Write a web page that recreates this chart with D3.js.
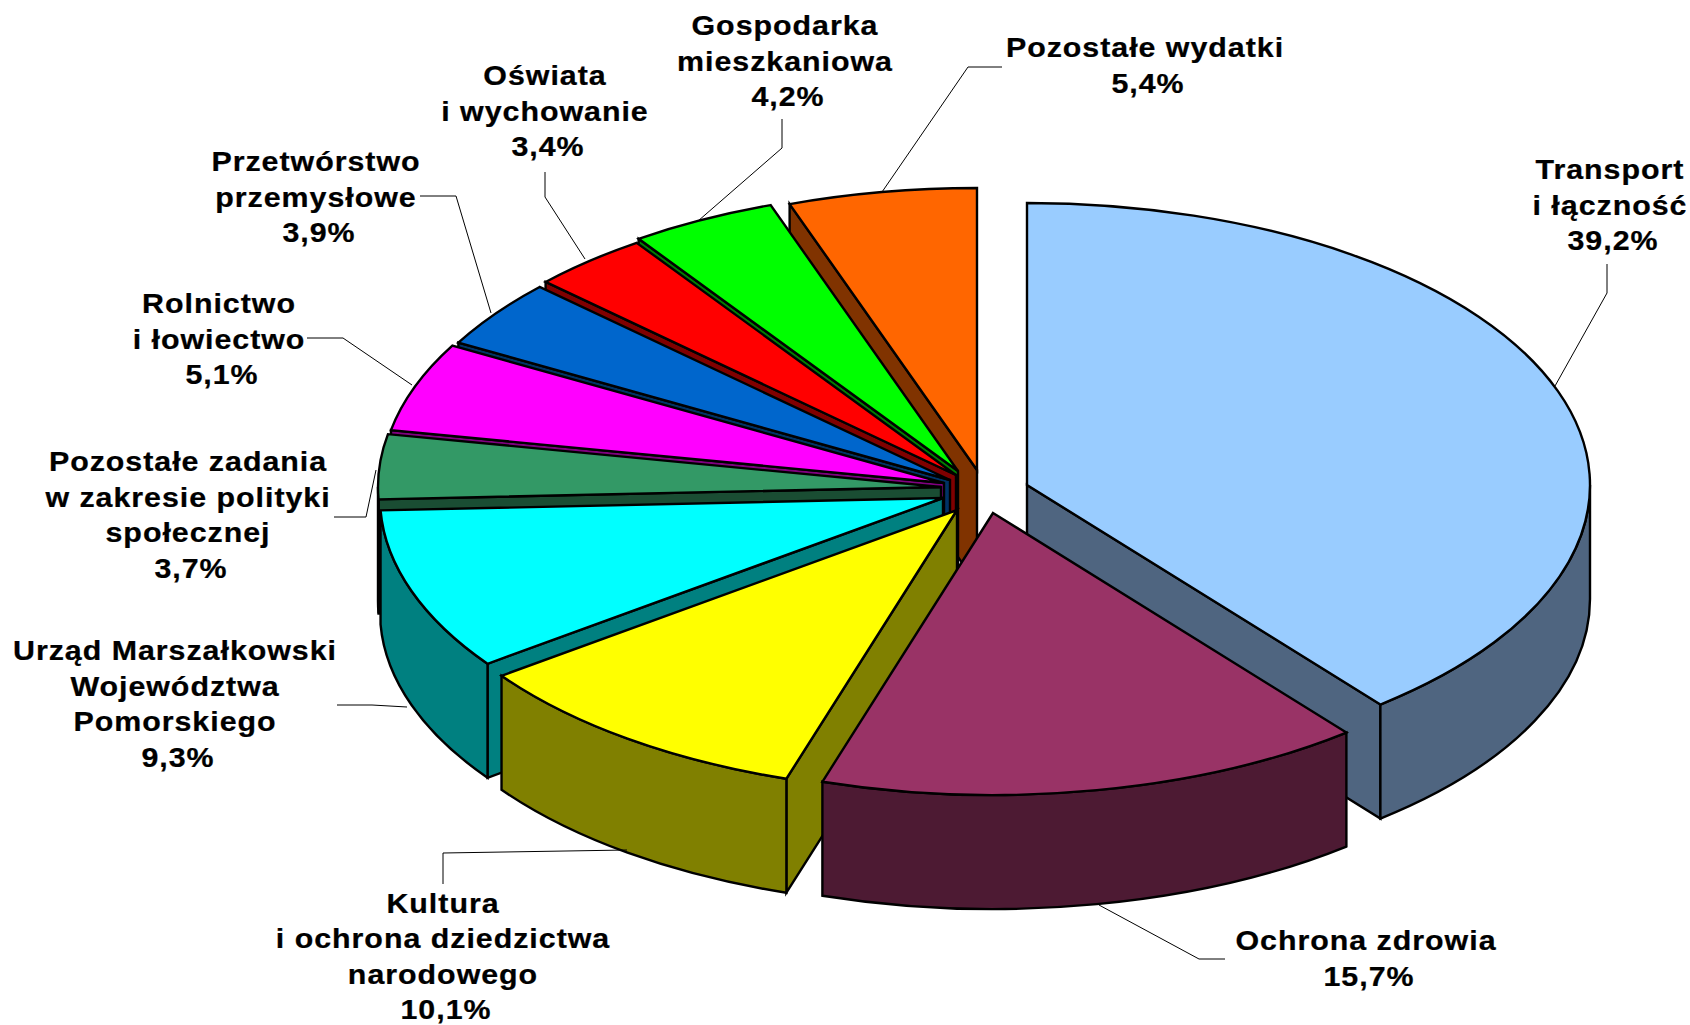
<!DOCTYPE html>
<html lang="pl">
<head>
<meta charset="utf-8">
<title>Wydatki</title>
<script src="https://cdnjs.cloudflare.com/ajax/libs/d3/7.8.5/d3.min.js"></script>
<style>
html,body{margin:0;padding:0;background:#fff;overflow:hidden}
svg{display:block}
text{font-family:"Liberation Sans",Arial,sans-serif;font-weight:700;font-size:28px;letter-spacing:.9px;fill:#000;text-anchor:middle;stroke:#000;stroke-width:.25px}
</style>
</head>
<body>
<svg id="chart" width="1690" height="1025"></svg>
<script>
// Data, clockwise from 12 o'clock
const categories = [
  ["Transport","i łączność"],
  ["Ochrona zdrowia"],
  ["Kultura","i ochrona dziedzictwa","narodowego"],
  ["Urząd Marszałkowski","Województwa","Pomorskiego"],
  ["Pozostałe zadania","w zakresie polityki","społecznej"],
  ["Rolnictwo","i łowiectwo"],
  ["Przetwórstwo","przemysłowe"],
  ["Oświata","i wychowanie"],
  ["Gospodarka","mieszkaniowa"],
  ["Pozostałe wydatki"]
];
const values = [39.2,15.7,10.1,9.3,3.7,5.1,3.9,3.4,4.2,5.4];
const valueLabels = ["39,2%","15,7%","10,1%","9,3%","3,7%","5,1%","3,9%","3,4%","4,2%","5,4%"];
const topColors  = ["#99CCFF","#993366","#FFFF00","#00FFFF","#339966","#FF00FF","#0066CC","#FF0000","#00FF00","#FF6600"];
const sideColors = ["#4F6580","#4D1A33","#808000","#008080","#1A4D33","#800080","#003366","#800000","#008000","#803300"];

// Layout (separate from the data)
const rx = 563, ry = 282, depth = 114;
const apex = [[1027,485],[993,513],[957,510],[943,498],[941,487],[944,483],[950,480],[956,475],[958,471],[977,470]];
const paintOrder = [9,8,7,6,5,4,3,0,2,1];
const labelX = [1610,1366,443,175,188,219,316,545,785,1145];
const labelY = [179,950,912.5,660,471,313,171,85,35,57];
const lineStep = 35.6;
const textStretch = 1.085;
const valueLabelShift = 3;
const leaders = [
  [[1607,264],[1607,293],[1555,386]],
  [[1099,905],[1199,959],[1225,959]],
  [[443,884],[443,853],[627,850]],
  [[337,705],[372,705],[407,707]],
  [[334,517],[366,517],[376,470]],
  [[307,338],[343,338],[412,385]],
  [[420,196],[456,196],[491,313]],
  [[545,172],[545,197],[585,259]],
  [[782,119],[782,148],[698,221]],
  [[882,192],[968,67],[1002,67]]
];

const arcs = d3.pie().sort(null).startAngle(0).endAngle(2*Math.PI)(values);
const svg = d3.select("#chart");
const leaderLine = d3.line();

const pt = (i,a,dy=0) => [apex[i][0]+rx*Math.sin(a), apex[i][1]-ry*Math.cos(a)+dy];
const arcTo = (p,large,sweep) => `A${rx} ${ry} 0 ${large} ${sweep} ${p[0]} ${p[1]}`;

function topPath(i){
  const {startAngle:a0,endAngle:a1} = arcs[i];
  return `M${apex[i]}L${pt(i,a0)}${arcTo(pt(i,a1),a1-a0>Math.PI?1:0,1)}Z`;
}
function radialWall(i,a){
  const c=apex[i], p=pt(i,a), q=pt(i,a,depth);
  return `M${c}L${p}L${q}L${c[0]} ${c[1]+depth}Z`;
}
function rimWall(i,a,b){
  return `M${pt(i,a)}${arcTo(pt(i,b),0,1)}L${pt(i,b,depth)}${arcTo(pt(i,a,depth),0,0)}Z`;
}

const slices = svg.append("g").selectAll("g").data(paintOrder).join("g")
  .attr("stroke","#000").attr("stroke-width",2.4).attr("stroke-linejoin","miter");

slices.each(function(i){
  const g = d3.select(this), {startAngle:a0,endAngle:a1} = arcs[i];
  const walls = [];
  if (Math.sin(a0) < -1e-6) walls.push(radialWall(i,a0));
  if (Math.sin(a1) >  1e-6) walls.push(radialWall(i,a1));
  const lo = Math.max(a0,Math.PI/2), hi = Math.min(a1,1.5*Math.PI);
  if (hi > lo) walls.push(rimWall(i,lo,hi));
  g.selectAll("path.wall").data(walls).join("path").attr("class","wall")
    .attr("d",d=>d).attr("fill",sideColors[i]);
  g.append("path").attr("d",topPath(i)).attr("fill",topColors[i]);
});

svg.append("g").selectAll("path").data(leaders).join("path")
  .attr("d",d=>leaderLine(d)).attr("fill","none").attr("stroke","#000").attr("stroke-width",1);

const labels = svg.append("g").selectAll("text")
  .data(categories.flatMap((lines,i)=>[...lines,valueLabels[i]].map((t,j)=>({t,i,j,isValue:j===lines.length}))))
  .join("text")
  .attr("transform",d=>`translate(${labelX[d.i]+(d.isValue?valueLabelShift:0)},${labelY[d.i]+d.j*lineStep}) scale(${textStretch},1)`)
  .text(d=>d.t);
</script>
</body>
</html>
